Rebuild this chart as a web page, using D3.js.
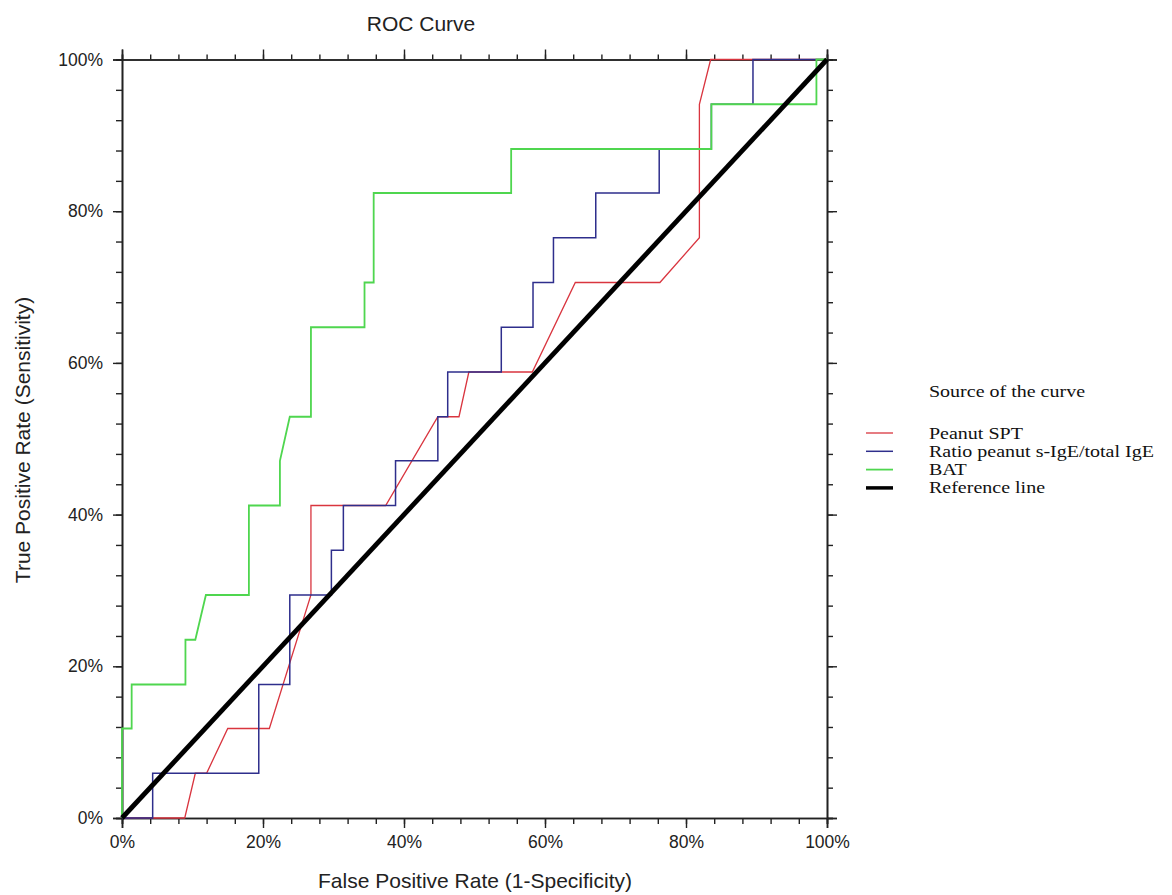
<!DOCTYPE html>
<html>
<head>
<meta charset="utf-8">
<script src="https://cdn.jsdelivr.net/npm/d3@7"></script>
<style>
  html, body { margin: 0; padding: 0; background: #fff; }
  svg { display: block; }
  .tick text { font-family: Arial, "Liberation Sans", sans-serif; fill: #222; }
</style>
</head>
<body>
<svg id="chart" width="1172" height="895"></svg>
<script>
// ROC curve coordinates, in percent (false positive rate, true positive rate)
const spt_fpr = [0, 8.9, 10.4, 12.0, 15.0, 20.9, 26.8, 26.8, 37.4, 44.8, 47.8, 49.2, 58.2, 64.3, 76.3, 81.9, 81.9, 83.5, 100];
const spt_tpr = [0, 0, 5.9, 5.9, 11.8, 11.8, 29.4, 41.2, 41.2, 52.9, 52.9, 58.8, 58.8, 70.6, 70.6, 76.5, 94.1, 100, 100];

const ratio_fpr = [0, 4.35, 4.35, 19.4, 19.4, 23.8, 23.8, 29.7, 29.7, 31.4, 31.4, 38.8, 38.8, 44.8, 44.8, 46.2, 46.2, 53.8, 53.8, 58.3, 58.3, 61.2, 61.2, 67.2, 67.2, 76.2, 76.2, 83.6, 83.6, 89.5, 89.5, 100];
const ratio_tpr = [0, 0, 5.9, 5.9, 17.6, 17.6, 29.4, 29.4, 35.3, 35.3, 41.2, 41.2, 47.1, 47.1, 52.9, 52.9, 58.8, 58.8, 64.7, 64.7, 70.6, 70.6, 76.5, 76.5, 82.4, 82.4, 88.2, 88.2, 94.1, 94.1, 100, 100];

const bat_fpr = [0, 0, 1.37, 1.37, 9.0, 9.0, 10.4, 11.9, 18.0, 18.0, 22.4, 22.4, 23.8, 26.8, 26.8, 34.4, 34.4, 35.7, 35.7, 55.2, 55.2, 83.6, 83.6, 98.5, 98.5, 100];
const bat_tpr = [0, 11.8, 11.8, 17.6, 17.6, 23.5, 23.5, 29.4, 29.4, 41.2, 41.2, 47.1, 52.9, 52.9, 64.7, 64.7, 70.6, 70.6, 82.4, 82.4, 88.2, 88.2, 94.1, 94.1, 100, 100];

const ref_fpr = [0, 100];
const ref_tpr = [0, 100];

const seriesNames = ["Peanut SPT", "Ratio peanut s-IgE/total IgE", "BAT", "Reference line"];
const majorTicks = [0, 20, 40, 60, 80, 100];
const minorTicks = d3.range(0, 100.01, 4);

const series = [
  { name: seriesNames[0], fpr: spt_fpr,   tpr: spt_tpr,   color: "#d9353f", width: 1.3 },
  { name: seriesNames[1], fpr: ratio_fpr, tpr: ratio_tpr, color: "#2e2e8c", width: 1.5 },
  { name: seriesNames[2], fpr: bat_fpr,   tpr: bat_tpr,   color: "#4fd64f", width: 1.8 },
  { name: seriesNames[3], fpr: ref_fpr,   tpr: ref_tpr,   color: "#000000", width: 4.8 }
];

const svg = d3.select("#chart");
const x = d3.scaleLinear().domain([0, 100]).range([122, 827]);
const y = d3.scaleLinear().domain([0, 100]).range([818, 59.5]);
const fmt = d => d + "%";

const axisColor = "#222";

function styleAxis(g) {
  g.selectAll("path.domain").attr("stroke", axisColor).attr("stroke-width", 1.6);
  g.selectAll(".tick line").attr("stroke", axisColor).attr("stroke-width", 1.4);
}

// minor ticks (all four sides)
svg.append("g").attr("transform", `translate(0,${y(0)})`)
  .call(d3.axisBottom(x).tickValues(minorTicks).tickSize(6).tickFormat(""))
  .call(styleAxis);
svg.append("g").attr("transform", `translate(0,${y(100)})`)
  .call(d3.axisTop(x).tickValues(minorTicks).tickSize(5).tickFormat(""))
  .call(styleAxis);
svg.append("g").attr("transform", `translate(${x(0)},0)`)
  .call(d3.axisLeft(y).tickValues(minorTicks).tickSize(6).tickFormat(""))
  .call(styleAxis);
svg.append("g").attr("transform", `translate(${x(100)},0)`)
  .call(d3.axisRight(y).tickValues(minorTicks).tickSize(6).tickFormat(""))
  .call(styleAxis);

// major ticks with labels on the bottom and left
const bottom = svg.append("g").attr("transform", `translate(0,${y(0)})`)
  .call(d3.axisBottom(x).tickValues(majorTicks).tickSize(10).tickPadding(8).tickFormat(fmt))
  .call(styleAxis);
bottom.selectAll(".tick text").attr("font-size", 17.5);
svg.append("g").attr("transform", `translate(0,${y(100)})`)
  .call(d3.axisTop(x).tickValues(majorTicks).tickSize(10).tickFormat(""))
  .call(styleAxis);
const left = svg.append("g").attr("transform", `translate(${x(0)},0)`)
  .call(d3.axisLeft(y).tickValues(majorTicks).tickSize(9).tickPadding(10).tickFormat(fmt))
  .call(styleAxis);
left.selectAll(".tick text").attr("font-size", 17.5);
svg.append("g").attr("transform", `translate(${x(100)},0)`)
  .call(d3.axisRight(y).tickValues(majorTicks).tickSize(10).tickFormat(""))
  .call(styleAxis);

// curves
const line = d3.line().x(d => x(d[0])).y(d => y(d[1]));
svg.append("g").selectAll("path")
  .data(series)
  .join("path")
  .attr("fill", "none")
  .attr("stroke", d => d.color)
  .attr("stroke-width", d => d.width)
  .attr("stroke-linejoin", "miter")
  .attr("d", d => line(d.fpr.map((f, i) => [f, d.tpr[i]])));

// titles
const sans = "Arial, 'Liberation Sans', sans-serif";
svg.append("text").attr("x", 421).attr("y", 31).attr("text-anchor", "middle")
  .attr("font-family", sans).attr("font-size", 21).attr("fill", "#222").text("ROC Curve");
svg.append("text").attr("x", 475).attr("y", 888).attr("text-anchor", "middle")
  .attr("font-family", sans).attr("font-size", 21).attr("fill", "#222")
  .text("False Positive Rate (1-Specificity)");
svg.append("text").attr("transform", `translate(30,440) rotate(-90)`).attr("text-anchor", "middle")
  .attr("font-family", sans).attr("font-size", 21).attr("fill", "#222")
  .text("True Positive Rate (Sensitivity)");

// legend: serif labels, slightly widened
const serif = "'Liberation Serif', 'Times New Roman', serif";
const legendX = 929;
const legend = svg.append("g");
legend.append("text")
  .attr("transform", `translate(${legendX},397) scale(1.25,1)`)
  .attr("font-family", serif).attr("font-size", 16).attr("fill", "#111")
  .text("Source of the curve");
const item = legend.selectAll("g.item").data(series).join("g")
  .attr("class", "item")
  .attr("transform", (d, i) => `translate(0,${433 + i * 18.3})`);
item.append("line").attr("x1", 866).attr("x2", 893).attr("y1", 0).attr("y2", 0)
  .attr("stroke", d => d.color).attr("stroke-width", d => Math.min(d.width, 3.5));
item.append("text")
  .attr("transform", `translate(${legendX},5.5) scale(1.25,1)`)
  .attr("font-family", serif).attr("font-size", 16).attr("fill", "#111")
  .text(d => d.name);
</script>
</body>
</html>
